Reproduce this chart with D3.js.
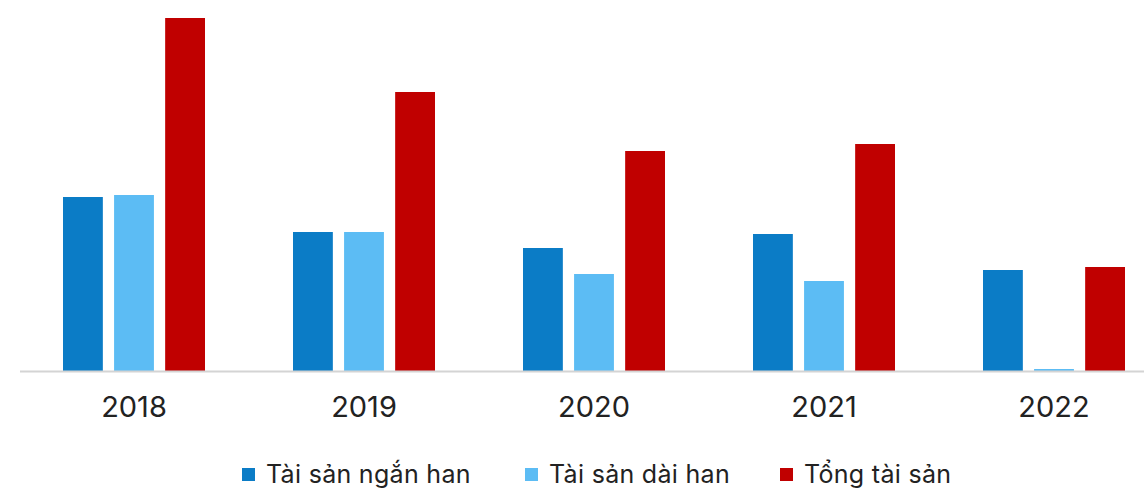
<!DOCTYPE html>
<html>
<head>
<meta charset="utf-8">
<script src="https://cdn.jsdelivr.net/npm/d3@7"></script>
<style>
  html, body { margin: 0; padding: 0; background: #fff; }
  svg { display: block; }
  text { font-family: Inter, "Noto Sans", sans-serif; fill: #222; }
</style>
</head>
<body>
<svg id="chart" width="1144" height="490"></svg>
<script>
// Years on the category axis
const years = ["2018", "2019", "2020", "2021", "2022"];
// Series names (legend labels)
const seriesNames = ["Tài sản ngắn han", "Tài sản dài han", "Tổng tài sản"];
// Values per series, one per year
const shortTerm = [174, 139, 123, 137, 101];
const longTerm  = [176, 139, 97, 90, 2];
const total     = [353, 279, 220, 227, 104];
const seriesColors = ["#0b7cc6", "#5cbcf4", "#c00000"];

const seriesValues = [shortTerm, longTerm, total];
const rows = years.map((y, i) => ({ year: y, values: seriesValues.map(s => s[i]) }));

const W = 1144, H = 490;
const svg = d3.select("#chart");

const x = d3.scaleBand().domain(years).range([19, 1169]).paddingInner(0).paddingOuter(0);
const xInner = d3.scaleBand().domain(d3.range(seriesNames.length))
  .range([x.bandwidth() / 2 - 71, x.bandwidth() / 2 + 71]).paddingInner(0.22).paddingOuter(0);
const y = d3.scaleLinear().domain([0, 353]).range([371, 18]);

// Bars
const groups = svg.append("g").selectAll("g").data(rows).join("g")
  .attr("transform", d => `translate(${x(d.year)},0)`);
groups.selectAll("rect").data(d => d.values.map((v, k) => ({ v, k }))).join("rect")
  .attr("x", d => xInner(d.k))
  .attr("width", xInner.bandwidth())
  .attr("y", d => y(d.v))
  .attr("height", d => y(0) - y(d.v))
  .attr("fill", d => seriesColors[d.k]);

// Category axis
const xAxis = svg.append("g").attr("transform", `translate(0,${y(0)})`)
  .call(d3.axisBottom(x).tickSize(0).tickPadding(25));
xAxis.select(".domain").attr("d", `M20,0.5H${W}`).attr("stroke", "#d4d4d4").attr("stroke-width", 2);
xAxis.selectAll("text").style("font-size", "29px").style("font-family", "Inter, sans-serif").attr("fill", "#222");

// Legend
const legendX = [242, 525, 780];
const legend = svg.append("g").selectAll("g").data(seriesNames).join("g")
  .attr("transform", (d, i) => `translate(${legendX[i]},468)`);
legend.append("rect").attr("width", 13).attr("height", 13).attr("fill", (d, i) => seriesColors[i]);
legend.append("text").attr("x", 24).attr("y", 15)
  .style("font-size", "25px").style("letter-spacing", "0.3px").text(d => d);
</script>
</body>
</html>
